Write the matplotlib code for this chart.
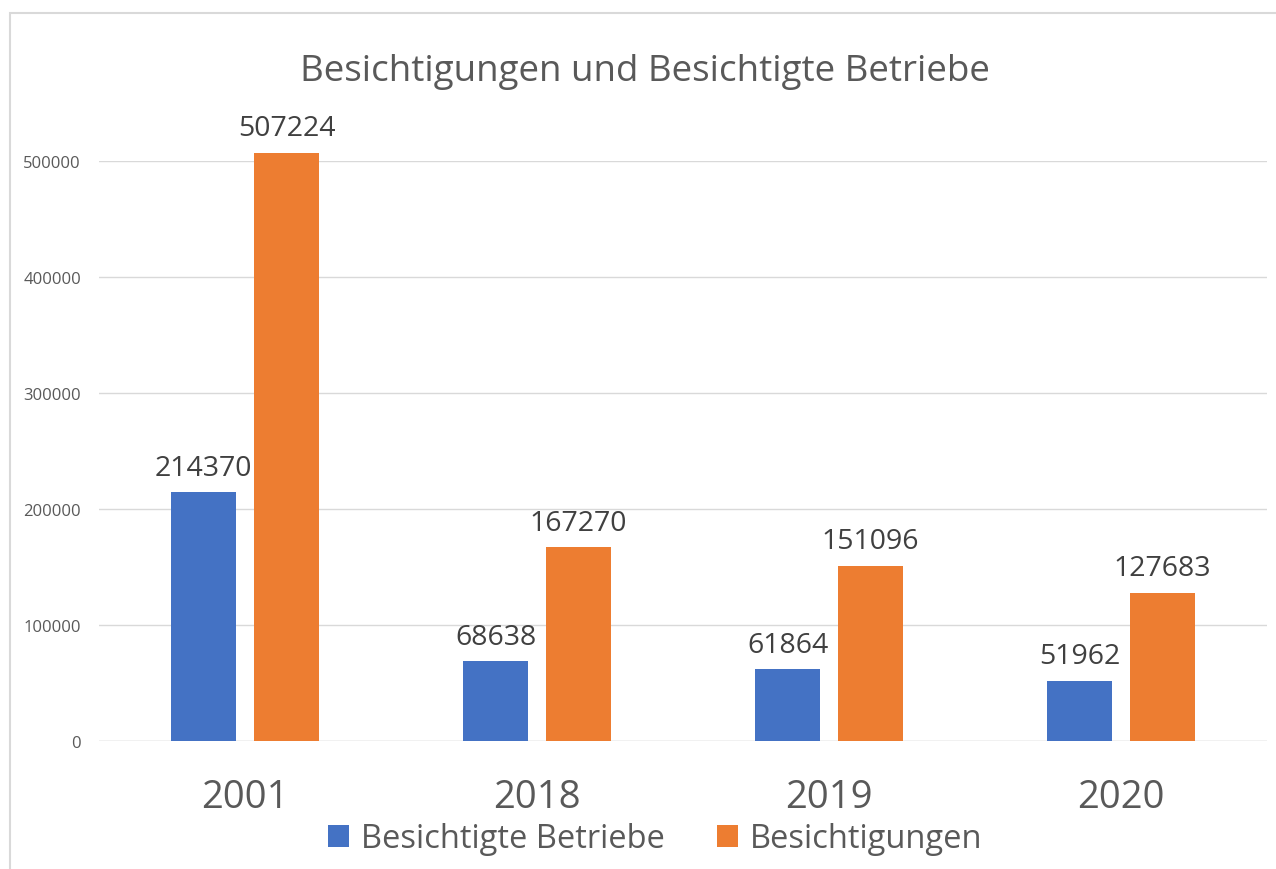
import matplotlib
matplotlib.use("Agg")
import matplotlib.pyplot as plt
from matplotlib.patches import Rectangle, Patch
import numpy as np

categories = ["2001", "2018", "2019", "2020"]
betriebe = [214370, 68638, 61864, 51962]
besichtigungen = [507224, 167270, 151096, 127683]
yticks = [0, 100000, 200000, 300000, 400000, 500000]
series_names = ["Besichtigte Betriebe", "Besichtigungen"]

FONT = "Open Sans"
plt.rcParams["font.family"] = [FONT, "DejaVu Sans"]

W, H = 1276, 870
fig = plt.figure(figsize=(W / 100, H / 100), dpi=100)
fig.patch.set_facecolor("white")

# chart border
fig.patches.append(Rectangle((10 / W, -0.1), 1.2, 1 - 14 / H + 0.1, transform=fig.transFigure,
                             fill=False, edgecolor="#d9d9d9", linewidth=1.5))

left, right = 99 / W, 1267 / W
bottom, top = 1 - 742 / H, 1 - 162 / H
ax = fig.add_axes([left, bottom, right - left, top - bottom])

x = np.arange(len(categories))
bw = 0.2226
off = 0.142
blue = "#4472c4"
orange = "#ed7d31"
b1 = ax.bar(x - off, betriebe, bw, color=blue, clip_on=False, zorder=3)
b2 = ax.bar(x + off, besichtigungen, bw, color=orange, clip_on=False, zorder=3)

for bars, vals in ((b1, betriebe), (b2, besichtigungen)):
    for r, v in zip(bars, vals):
        ax.annotate(f"{v}", (r.get_x() + r.get_width() / 2, v), xytext=(0, 7.5),
                    textcoords="offset points", ha="center", va="bottom",
                    fontsize=20.5, color="#404040", annotation_clip=False)

ax.set_xlim(-0.5, len(categories) - 0.5)
ax.set_ylim(0, 500000)
ax.set_yticks(yticks)
ax.set_yticklabels([str(t) for t in yticks])
ax.set_xticks(x)
ax.set_xticklabels(categories)
ax.tick_params(axis="y", length=0, pad=13, labelsize=12, labelcolor="#595959")
ax.tick_params(axis="x", length=0, pad=27, labelsize=27.5, labelcolor="#595959")
for s in ax.spines.values():
    s.set_visible(False)
ax.grid(axis="y", color="#d9d9d9", linewidth=1)
ax.set_axisbelow(True)
ax.axhline(0, color="#d9d9d9", linewidth=1, zorder=2)

fig.text(645 / W, 1 - 72 / H, "Besichtigungen und Besichtigte Betriebe",
         ha="center", va="center", fontsize=26.5, color="#595959")

handles = [Patch(facecolor=blue), Patch(facecolor=orange)]
fig.legend(handles, series_names, loc="center", bbox_to_anchor=(655 / W, 1 - 840 / H),
           ncol=2, frameon=False, fontsize=23.5, labelcolor="#595959",
           handlelength=0.65, handleheight=0.65, handletextpad=0.35, columnspacing=1.6)

fig.savefig("out.png", dpi=100)
